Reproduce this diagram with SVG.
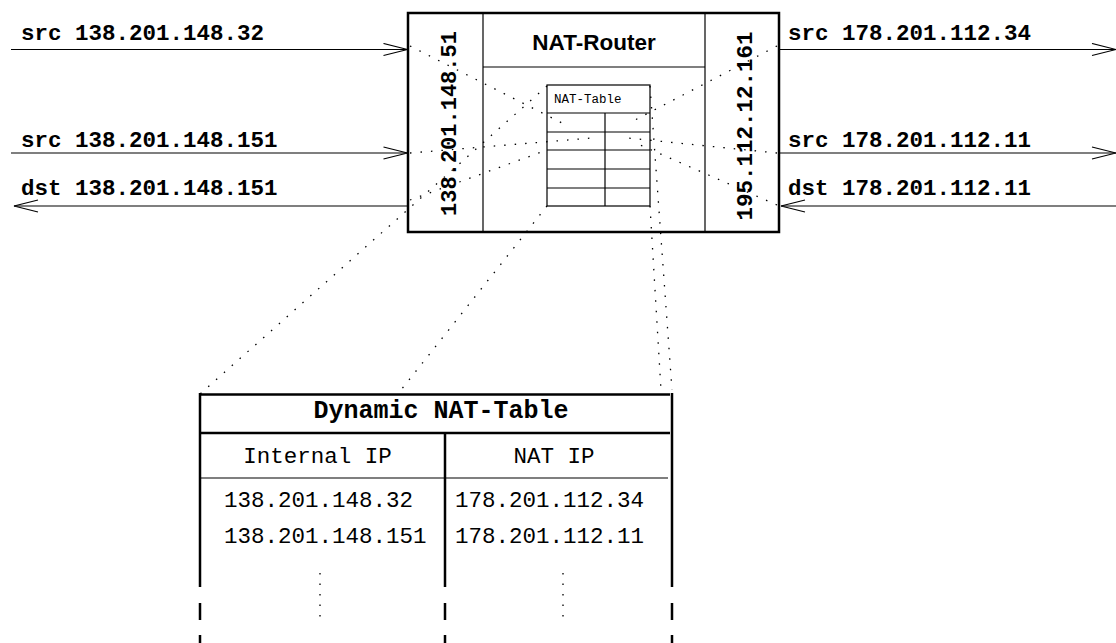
<svg xmlns="http://www.w3.org/2000/svg" width="1116" height="643" viewBox="0 0 1116 643">
<style>
  .mono { font-family: "Liberation Mono", "Courier New", monospace; fill: #000; }
  .b { font-weight: bold; }
  .sans { font-family: "Liberation Sans", Arial, sans-serif; font-weight: bold; fill: #000; }
  .thick { stroke: #000; stroke-width: 2.5; fill: none; }
  .thin { stroke: #000; stroke-width: 1.2; fill: none; }
  .arrow { stroke: #000; stroke-width: 1.2; fill: none; marker-end: url(#open); }
  .dot { stroke: #000; stroke-width: 1.3; fill: none; stroke-dasharray: 1.5 9; }
</style>
<defs>
  <marker id="open" markerUnits="userSpaceOnUse" markerWidth="26" markerHeight="14" viewBox="0 0 26 14" refX="25" refY="7" orient="auto">
    <path d="M1,1 L25,7 L1,13" fill="none" stroke="#000" stroke-width="1.2"/>
  </marker>
</defs>
<rect width="1116" height="643" fill="#fff"/>

<g id="router">
  <rect x="408" y="13" width="371" height="219" class="thick"/>
  <line x1="483" y1="13" x2="483" y2="232" class="thin"/>
  <line x1="705" y1="13" x2="705" y2="232" class="thin"/>
  <line x1="483" y1="67" x2="705" y2="67" class="thin"/>
  <text x="594" y="50" class="sans" font-size="22.5" text-anchor="middle">NAT-Router</text>
  <text transform="translate(455.5,123.5) rotate(-90)" class="mono b" font-size="22" text-anchor="middle">138.201.148.51</text>
  <text transform="translate(752,126) rotate(-90)" class="mono b" font-size="22.5" text-anchor="middle">195.112.12.161</text>
</g>

<g id="nat-table-small">
  <rect x="547" y="85" width="103" height="121" class="thin"/>
  <line x1="547" y1="113" x2="650" y2="113" class="thin"/>
  <line x1="547" y1="132" x2="650" y2="132" class="thin"/>
  <line x1="547" y1="150" x2="650" y2="150" class="thin"/>
  <line x1="547" y1="169" x2="650" y2="169" class="thin"/>
  <line x1="547" y1="188" x2="650" y2="188" class="thin"/>
  <line x1="605" y1="113" x2="605" y2="206" class="thin"/>
  <text x="554" y="103" class="mono" font-size="12.5">NAT-Table</text>
</g>

<g id="dynamic-nat-table">
  <line x1="200" y1="394.5" x2="670" y2="394.5" class="thick"/>
  <line x1="200" y1="433" x2="670" y2="433" class="thick"/>
  <line x1="200" y1="478" x2="668" y2="478" class="thin"/>
  <path d="M200,393 V587 M200,603 V620 M200,635 V643 M445,433 V587 M445,603 V620 M445,635 V643 M672,393 V587 M672,603 V620 M672,635 V643" class="thick"/>
  <text x="441" y="418" class="mono b" font-size="25" text-anchor="middle">Dynamic NAT-Table</text>
  <text x="317.5" y="463" class="mono" font-size="22.5" text-anchor="middle">Internal IP</text>
  <text x="554" y="463" class="mono" font-size="22.5" text-anchor="middle">NAT IP</text>
  <text x="224" y="507" class="mono" font-size="22.5">138.201.148.32</text>
  <text x="224" y="543" class="mono" font-size="22.5">138.201.148.151</text>
  <text x="455" y="507" class="mono" font-size="22.5">178.201.112.34</text>
  <text x="455" y="543" class="mono" font-size="22.5">178.201.112.11</text>
  <line x1="320" y1="573" x2="320" y2="618" class="dot"/>
  <line x1="563" y1="573" x2="563" y2="618" class="dot"/>
</g>

<g id="left-labels">
  <text x="21" y="40" class="mono b" font-size="22.5">src 138.201.148.32</text>
  <text x="21" y="147" class="mono b" font-size="22.5">src 138.201.148.151</text>
  <text x="21" y="195" class="mono b" font-size="22.5">dst 138.201.148.151</text>
</g>
<g id="right-labels">
  <text x="788" y="40" class="mono b" font-size="22.5">src 178.201.112.34</text>
  <text x="788" y="147" class="mono b" font-size="22.5">src 178.201.112.11</text>
  <text x="788" y="195" class="mono b" font-size="22.5">dst 178.201.112.11</text>
</g>

<g id="connectors">
  <line x1="11" y1="49.5" x2="407.5" y2="49.5" class="arrow"/>
  <line x1="11" y1="153" x2="407.5" y2="153" class="arrow"/>
  <line x1="408" y1="206" x2="14" y2="206" class="arrow"/>
  <line x1="779" y1="49.5" x2="1116" y2="49.5" class="arrow"/>
  <line x1="779" y1="153" x2="1116" y2="153" class="arrow"/>
  <line x1="1116" y1="206" x2="781" y2="206" class="arrow"/>

  <line x1="410" y1="46" x2="562" y2="123" class="dot"/>
  <line x1="410" y1="153" x2="592" y2="138" class="dot"/>
  <line x1="410" y1="200" x2="547" y2="150" class="dot"/>
  <line x1="777" y1="46" x2="635" y2="120" class="dot"/>
  <line x1="777" y1="153" x2="628" y2="138" class="dot"/>
  <line x1="777" y1="205" x2="640" y2="145" class="dot"/>

  <line x1="547" y1="86" x2="200" y2="394" class="dot"/>
  <line x1="547" y1="206" x2="401" y2="390" class="dot"/>
  <line x1="650" y1="86" x2="672" y2="390" class="dot"/>
  <line x1="650" y1="206" x2="661" y2="390" class="dot"/>
</g>
</svg>
